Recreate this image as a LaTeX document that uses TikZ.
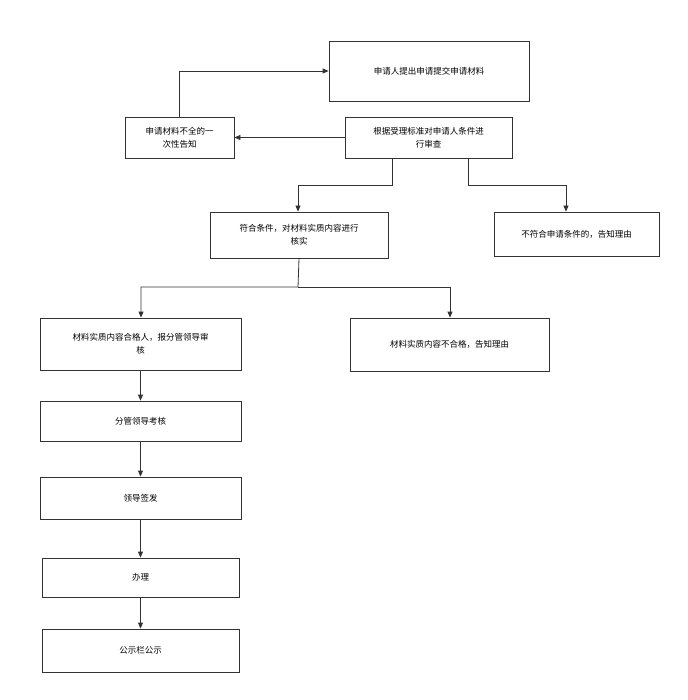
\documentclass[tikz,border=0pt]{standalone}
\usepackage{fontspec}
\newfontfamily\cjk{Noto Sans CJK SC}
\usetikzlibrary{arrows.meta,positioning}
\tikzset{
  box/.style={draw=black!80, line width=0.8pt, align=center, inner sep=2pt,
    font=\cjk\fontsize{8.5}{13}\selectfont},
  flow/.style={draw=black!80, line width=0.8pt, -{Triangle[length=6pt,width=5pt]}}
}
\begin{document}
\begin{tikzpicture}[x=1pt,y=-1pt]
    \useasboundingbox (0,0) rectangle (687,700);
    % top row
    \node[box, minimum width=200pt, minimum height=60pt] (submit) at (429,71) {申请人提出申请提交申请材料};
    \node[box, minimum width=167pt, minimum height=41pt] (review) at (428.5,137.5) {根据受理标准对申请人条件进\\行审查};
    \node[box, minimum width=109pt, minimum height=41pt] (notice) at (179.5,137.5) {申请材料不全的一\\次性告知};
    % second row
    \node[box, minimum width=178pt, minimum height=46pt] (verify) at (299,235) {符合条件，对材料实质内容进行\\核实};
    \node[box, minimum width=165pt, minimum height=44pt] (reject) at (576.5,234) {不符合申请条件的，告知理由};
    % third row
    \node[box, minimum width=201pt, minimum height=52pt] (pass) at (140.5,344) {材料实质内容合格人，报分管领导审\\核};
    \node[box, minimum width=199pt, minimum height=53pt] (fail) at (449.5,344.5) {材料实质内容不合格，告知理由};
    % chain
    \node[box, minimum width=201pt, minimum height=40pt] (check) at (140.5,421) {分管领导考核};
    \node[box, minimum width=201pt, minimum height=42pt] (sign) at (140.5,498) {领导签发};
    \node[box, minimum width=197pt, minimum height=39pt] (handle) at (140.5,577.5) {办理};
    \node[box, minimum width=197pt, minimum height=43pt] (publish) at (140.5,650.5) {公示栏公示};

    \draw[flow] (review.west) -- (notice.east);
    \draw[flow] (notice.north) |- (submit.west);
    \draw[flow] (review.south -| 392,0) |- (298,185) -- (verify.north -| 298,0);
    \draw[flow] (review.south -| 468,0) |- (566,185) -- (reject.north -| 566,0);
    \draw[flow] (verify.south) -- (298,287) -| (pass.north -| 141,0);
    \draw[flow] (298,287) -| (fail.north -| 450,0);
    \draw[flow] (pass) -- (check);
    \draw[flow] (check) -- (sign);
    \draw[flow] (sign) -- (handle);
    \draw[flow] (handle) -- (publish);
\end{tikzpicture}
\end{document}
